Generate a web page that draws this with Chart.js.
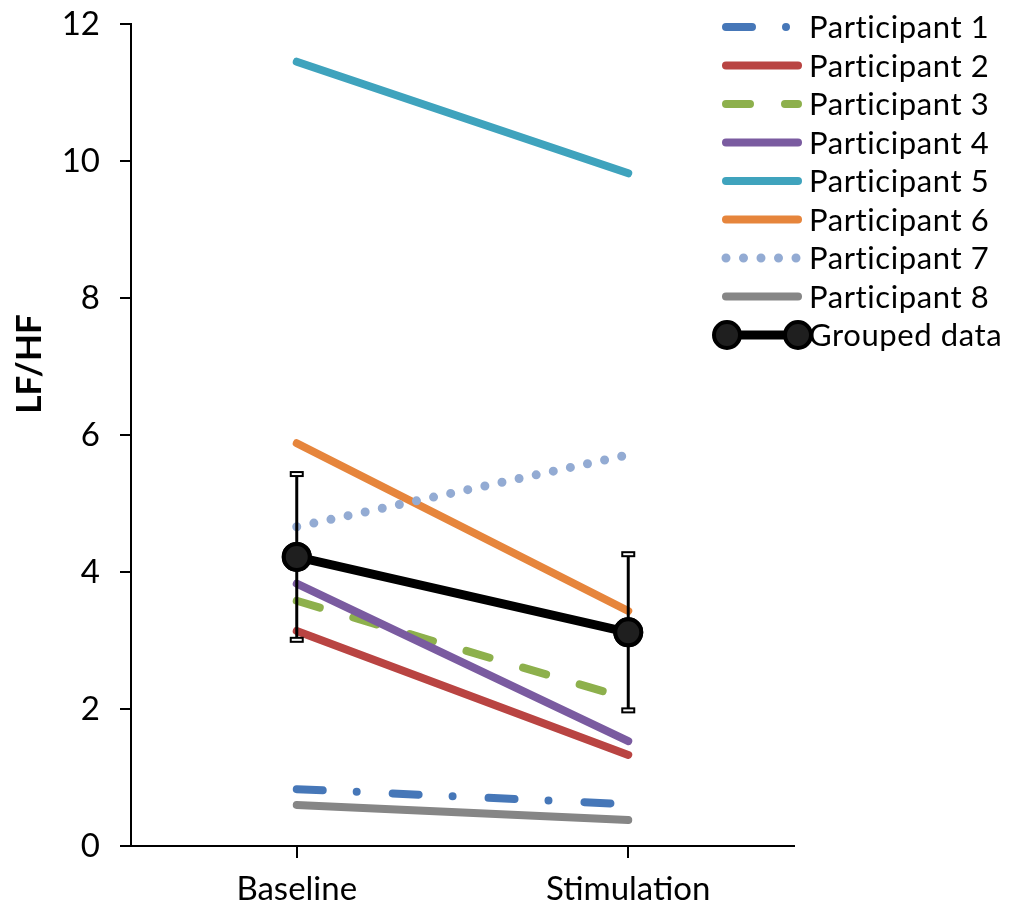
<!DOCTYPE html>
<html>
<head>
<meta charset="utf-8">
<script src="https://cdn.jsdelivr.net/npm/chart.js@4/dist/chart.umd.min.js"></script>
<style>
  html, body { margin: 0; padding: 0; background: #fff; }
  #wrap { width: 1013px; height: 906px; position: relative; }
</style>
</head>
<body>
<div id="wrap"><canvas id="lfhfChart"></canvas></div>
<script>
// LF/HF per participant, baseline vs stimulation
const categories = ["Baseline", "Stimulation"];
const seriesNames = ["Participant 1", "Participant 2", "Participant 3", "Participant 4",
  "Participant 5", "Participant 6", "Participant 7", "Participant 8"];
const participant1 = [0.83, 0.61];
const participant2 = [3.14, 1.33];
const participant3 = [3.58, 2.15];
const participant4 = [3.83, 1.53];
const participant5 = [11.45, 9.82];
const participant6 = [5.88, 3.43];
const participant7 = [4.66, 5.71];
const participant8 = [0.6, 0.38];
const groupedMean = [4.22, 3.12];
const groupedError = [1.21, 1.14];
const yTicks = [0, 2, 4, 6, 8, 10, 12];

const FONT = "Lato";

const styles = [
  { color: "#4677B8", dash: [26, 34, 0, 36], width: 8 },
  { color: "#B94442", dash: [], width: 8 },
  { color: "#8DB04C", dash: [24, 35], width: 8 },
  { color: "#7A5BA0", dash: [], width: 8 },
  { color: "#3FA3BD", dash: [], width: 8 },
  { color: "#E6853C", dash: [], width: 8 },
  { color: "#93ABD3", dash: [0, 17.5], width: 9 },
  { color: "#868686", dash: [], width: 8 },
];
const participants = [participant1, participant2, participant3, participant4,
  participant5, participant6, participant7, participant8];

const datasets = participants.map((vals, i) => ({
  label: seriesNames[i],
  data: vals,
  borderColor: styles[i].color,
  borderWidth: styles[i].width,
  borderDash: styles[i].dash,
  borderCapStyle: "round",
  pointRadius: 0,
  fill: false,
  order: 20 - i,
}));

datasets.push({
  label: "Grouped data",
  data: groupedMean,
  borderColor: "#000",
  borderWidth: 9,
  borderCapStyle: "round",
  pointRadius: 13,
  pointBackgroundColor: "#1f1f1f",
  pointBorderColor: "#000",
  pointBorderWidth: 4,
  fill: false,
  order: 1,
});

// error bars for grouped data, drawn through the y scale
const errorBars = {
  id: "errorBars",
  afterDatasetsDraw(chart) {
    const ctx = chart.ctx;
    const xs = chart.scales.x, ys = chart.scales.y;
    ctx.save();
    groupedMean.forEach((m, i) => {
      const x = xs.getPixelForValue(i);
      const top = ys.getPixelForValue(m + groupedError[i]);
      const bot = ys.getPixelForValue(m - groupedError[i]);
      ctx.strokeStyle = "#000";
      ctx.lineWidth = 3;
      ctx.beginPath();
      ctx.moveTo(x, top);
      ctx.lineTo(x, bot);
      ctx.stroke();
      [top, bot].forEach((y) => {
        ctx.fillStyle = "#000";
        ctx.fillRect(x - 7, y - 3, 14, 6);
        ctx.fillStyle = "#fff";
        ctx.fillRect(x - 5, y - 1, 10, 2);
      });
      // redraw marker on top
      ctx.beginPath();
      ctx.arc(x, ys.getPixelForValue(m), 13, 0, Math.PI * 2);
      ctx.fillStyle = "#1f1f1f";
      ctx.fill();
      ctx.lineWidth = 4;
      ctx.strokeStyle = "#000";
      ctx.stroke();
    });
    ctx.restore();
  },
};

// custom legend + rotated y title
const sideLegend = {
  id: "sideLegend",
  afterDraw(chart) {
    const ctx = chart.ctx;
    ctx.save();
    const x0 = 726, x1 = 798;
    chart.data.datasets.forEach((ds, i) => {
      const y = 27 + i * 38.5;
      ctx.beginPath();
      ctx.setLineDash(ds.borderDash || []);
      ctx.lineCap = "round";
      ctx.lineWidth = ds.borderWidth;
      ctx.strokeStyle = ds.borderColor;
      ctx.moveTo(x0, y);
      ctx.lineTo(x1, y);
      ctx.stroke();
      ctx.setLineDash([]);
      if (ds.pointRadius > 0) {
        [x0 + 1, x1].forEach((px) => {
          ctx.beginPath();
          ctx.arc(px, y, 13, 0, Math.PI * 2);
          ctx.fillStyle = ds.pointBackgroundColor;
          ctx.fill();
          ctx.lineWidth = 4;
          ctx.strokeStyle = "#000";
          ctx.stroke();
        });
      }
      ctx.fillStyle = "#000";
      ctx.font = "31px " + FONT;
      ctx.letterSpacing = "0.6px";
      ctx.textBaseline = "middle";
      ctx.textAlign = "left";
      ctx.fillText(ds.label, 809, y + 1);
    });

    ctx.letterSpacing = "0px";
    ctx.translate(30, 364);
    ctx.rotate(-Math.PI / 2);
    ctx.font = "bold 35px " + FONT;
    ctx.textAlign = "center";
    ctx.textBaseline = "middle";
    ctx.fillStyle = "#000";
    ctx.fillText("LF/HF", 0, 0);
    ctx.restore();
  },
};

document.addEventListener("DOMContentLoaded", function () {
  const ctx = document.getElementById("lfhfChart").getContext("2d");
  new Chart(ctx, {
    type: "line",
    data: { labels: categories, datasets: datasets },
    options: {
      responsive: true,
      maintainAspectRatio: false,
      animation: false,
      layout: { padding: { top: 24, right: 219, left: 0, bottom: 0 } },
      plugins: {
        legend: { display: false },
        tooltip: { enabled: false },
      },
      scales: {
        x: {
          offset: true,
          afterFit: (s) => { s.height = 60; s.paddingLeft = 0; s.paddingRight = 0; },
          grid: {
            offset: false,
            drawOnChartArea: false,
            drawTicks: true,
            tickLength: 12,
            color: "#000",
            lineWidth: 2,
          },
          border: { display: true, color: "#000", width: 2 },
          ticks: { color: "#000", font: { family: FONT, size: 33 }, padding: 12 },
        },
        y: {
          min: 0,
          max: 12,
          afterFit: (s) => { s.width = 131; s.paddingTop = 0; s.paddingBottom = 0; },
          afterBuildTicks: (s) => { s.ticks = yTicks.map((v) => ({ value: v })); },
          grid: {
            drawOnChartArea: false,
            tickLength: 11,
            color: "#000",
            lineWidth: 2,
          },
          border: { display: true, color: "#000", width: 2 },
          ticks: { color: "#000", font: { family: FONT, size: 33 }, padding: 20 },
        },
      },
    },
    plugins: [errorBars, sideLegend],
  });
});
</script>
</body>
</html>
